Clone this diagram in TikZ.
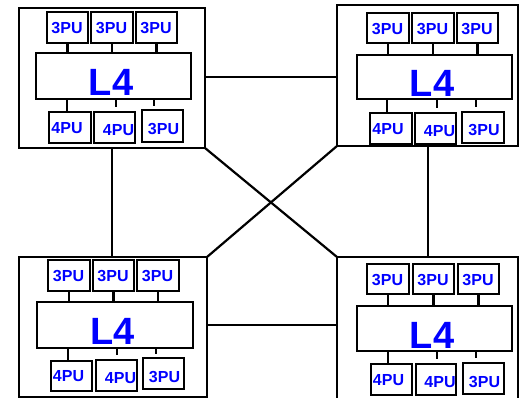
\documentclass[tikz,border=0pt]{standalone}
\usepackage{fontspec}
\setmainfont{Liberation Sans}
\tikzset{
  outerbox/.style={draw, line width=2.4pt, inner sep=0pt, outer sep=0pt},
  l4box/.style={draw, line width=2.5pt, fill=white, inner sep=0pt, outer sep=0pt},
  pubox/.style={draw, line width=2.9pt, fill=white, inner sep=0pt, outer sep=0pt},
  wire/.style={line width=2.1pt},
  link/.style={line width=2.2pt},
  pulbl/.style={text=blue, font=\fontsize{16}{17}\selectfont\bfseries, inner sep=0pt},
  l4lbl/.style={text=blue, font=\fontsize{38}{39}\selectfont\bfseries, inner sep=0pt},
}
% style, x1, y1, x2, y2, name
\newcommand\bx[6]{\node[#1, minimum width={#4-#2}, minimum height={#5-#3}] (#6) at ({(#2+#4)/2},{(#3+#5)/2}) {};}
% labels and wires of one module
\newcommand\modlabels[1]{%
  \node[pulbl] (#1-t1-l) at ([shift={(-0.5,1)}]#1-t1.center) {3PU};
  \node[pulbl] (#1-t2-l) at ([shift={(-0.5,1)}]#1-t2.center) {3PU};
  \node[pulbl] (#1-t3-l) at ([shift={(-0.5,1)}]#1-t3.center) {3PU};
  \node[l4lbl] (#1-l4-l) at ([shift={(-2.5,6.5)}]#1-l4.center) {L4};
  \node[pulbl] (#1-b1-l) at ([shift={(-3,0.5)}]#1-b1.center) {4PU};
  \node[pulbl] (#1-b2-l) at ([shift={(4,3)}]#1-b2.center) {4PU};
  \node[pulbl] (#1-b3-l) at ([shift={(1,3)}]#1-b3.center) {3PU};
  \draw[wire] (#1-t1.south) -- (#1-t1.south |- #1-l4.north);
  \draw[wire] (#1-t2.south) -- (#1-t2.south |- #1-l4.north);
  \draw[wire] (#1-t3.south) -- (#1-t3.south |- #1-l4.north);
  \draw[wire] (#1-l4.south -| #1-s1) -- (#1-s1);
  \draw[wire] (#1-l4.south -| #1-s2) -- (#1-s2);
  \draw[wire] (#1-l4.south -| #1-s3) -- (#1-s3);
}
\begin{document}
\begin{tikzpicture}[x=1pt, y=-1pt]
\fill[white] (0,0) rectangle (521,398);
\useasboundingbox (0,0) rectangle (521,398);

% ---- top left module
\bx{outerbox}{19}{8}{205}{148}{tl}
\bx{pubox}{47}{12}{88}{43}{tl-t1}
\bx{pubox}{91}{12}{133}{43}{tl-t2}
\bx{pubox}{136}{12}{177}{43}{tl-t3}
\bx{l4box}{36}{53}{191}{99}{tl-l4}
\bx{pubox}{49}{112}{91}{143}{tl-b1}
\bx{pubox}{94}{112}{135}{143}{tl-b2}
\bx{pubox}{142}{110}{183}{142}{tl-b3}
\coordinate (tl-s1) at (67,112);
\coordinate (tl-s2) at (116,107);
\coordinate (tl-s3) at (154,106);
\modlabels{tl}

% ---- top right module
\bx{outerbox}{337}{5}{518}{146}{tr}
\bx{pubox}{367}{13}{409}{43}{tr-t1}
\bx{pubox}{412}{13}{454}{43}{tr-t2}
\bx{pubox}{457}{13}{498}{43}{tr-t3}
\bx{l4box}{357}{55}{512}{99}{tr-l4}
\bx{pubox}{370}{113}{412}{144}{tr-b1}
\bx{pubox}{415}{113}{456}{144}{tr-b2}
\bx{pubox}{462}{112}{504}{143}{tr-b3}
\coordinate (tr-s1) at (387,113);
\coordinate (tr-s2) at (437,108);
\coordinate (tr-s3) at (476,107);
\modlabels{tr}

% ---- bottom left module
\bx{outerbox}{19}{257}{207}{397}{bl}
\bx{pubox}{48}{260}{90}{291}{bl-t1}
\bx{pubox}{93}{260}{134}{291}{bl-t2}
\bx{pubox}{137}{260}{179}{291}{bl-t3}
\bx{l4box}{37}{302}{193}{348}{bl-l4}
\bx{pubox}{51}{361}{92}{391}{bl-b1}
\bx{pubox}{96}{360}{137}{391}{bl-b2}
\bx{pubox}{143}{358}{184}{389}{bl-b3}
\coordinate (bl-s1) at (68,361);
\coordinate (bl-s2) at (117,355);
\coordinate (bl-s3) at (156,354);
\modlabels{bl}

% ---- bottom right module
\bx{outerbox}{337}{257}{518}{402}{br}
\bx{pubox}{367}{264}{409}{294}{br-t1}
\bx{pubox}{413}{264}{454}{294}{br-t2}
\bx{pubox}{458}{264}{499}{294}{br-t3}
\bx{l4box}{357}{306}{512}{351}{br-l4}
\bx{pubox}{371}{364}{412}{395}{br-b1}
\bx{pubox}{416}{364}{456}{395}{br-b2}
\bx{pubox}{463}{363}{504}{394}{br-b3}
\coordinate (br-s1) at (388,364);
\coordinate (br-s2) at (437,359);
\coordinate (br-s3) at (476,358);
\modlabels{br}

% ---- links between modules
\coordinate (h1) at (0,77);
\coordinate (h2) at (0,325);
\coordinate (v1) at (112,0);
\coordinate (v2) at (428,0);
\draw[link] (tl.east |- h1) -- (tr.west |- h1);
\draw[link] (bl.east |- h2) -- (br.west |- h2);
\draw[link] (tl.south -| v1) -- (bl.north -| v1);
\draw[link] (tr.south -| v2) -- (br.north -| v2);
\draw[link] (tl.south east) -- (br.north west);
\draw[link] (tr.south west) -- (bl.north east);
\end{tikzpicture}
\end{document}
